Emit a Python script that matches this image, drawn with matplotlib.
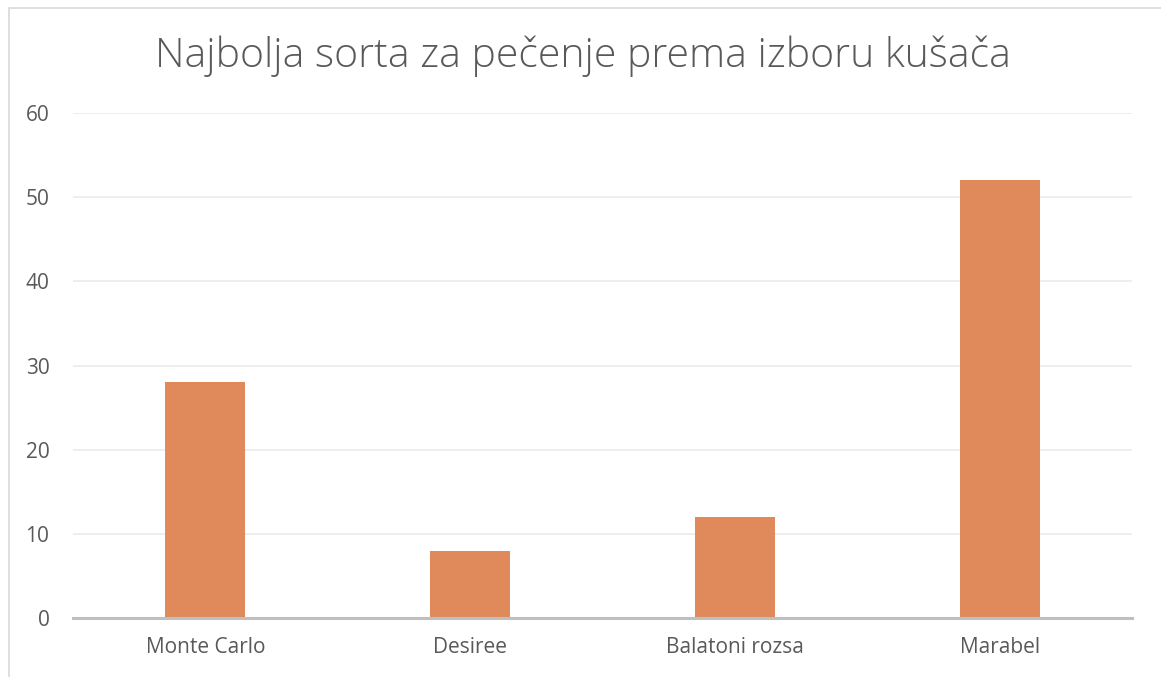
import matplotlib.pyplot as plt
from matplotlib.patches import Rectangle

plt.rcParams['font.family'] = ['Open Sans', 'DejaVu Sans']

sorte = ["Monte Carlo", "Desiree", "Balatoni rozsa", "Marabel"]
glasovi = [28, 8, 12, 52]
y_ticks = [0, 10, 20, 30, 40, 50, 60]

W, H = 1161, 677
fig = plt.figure(figsize=(W / 100, H / 100), dpi=100)
ax = fig.add_axes([73 / W, 1 - 618 / H, (1132 - 73) / W, (618 - 113) / H])

# okvir grafikona (samo lijevi i gornji rub su vidljivi)
fig.patches.append(Rectangle((9 / W, -0.1), 1.2, 1 - 8 / H + 0.1,
                             transform=fig.transFigure, fill=False,
                             edgecolor="#D9D9D9", linewidth=1.2))

x = range(len(sorte))
ax.bar(x, glasovi, width=0.302, color="#E0895A", zorder=3)
ax.set_xlim(-0.5, len(sorte) - 0.5)
ax.set_ylim(0, 60)
ax.set_yticks(y_ticks)
ax.set_xticks(list(x))
ax.set_xticklabels(sorte)

ax.grid(axis="y", color="#EBEBEB", linewidth=1.2, zorder=0)
for s in ["top", "right", "left"]:
    ax.spines[s].set_visible(False)
ax.spines["bottom"].set_color("#BFBFBF")
ax.spines["bottom"].set_linewidth(2.2)
ax.spines["bottom"].set_zorder(4)
ax.tick_params(length=0, colors="#595959", labelsize=15)
ax.tick_params(axis="y", pad=17)
ax.tick_params(axis="x", pad=14)

fig.text(583 / W, 1 - 56 / H, "Najbolja sorta za pečenje prema izboru kušača",
         ha="center", va="center", fontsize=29.5, fontweight="light",
         color="#595959")

fig.savefig("out.png", dpi=100, facecolor="white")
